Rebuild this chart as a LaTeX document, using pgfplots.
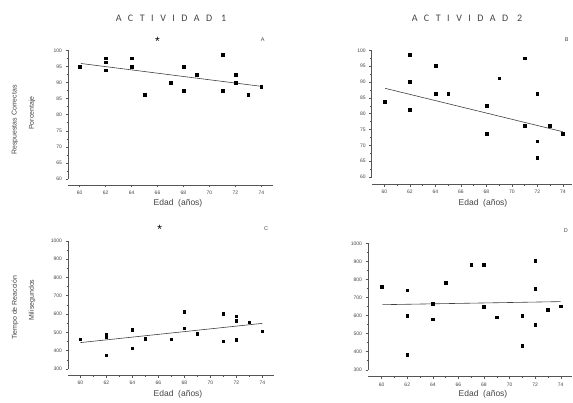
\documentclass[border=0pt]{standalone}
\usepackage{fontspec}
\setmainfont{Liberation Sans}
\newfontfamily\titlefont[LetterSpace=65]{Carlito}
\usepackage{pgfplots}
\pgfplotsset{compat=1.18}
\definecolor{txt}{HTML}{444444}
\definecolor{axc}{HTML}{555555}
\pgfplotsset{
  panel/.style={
    scale only axis,
    axis x line=bottom, axis y line=left,
    axis line style={axc, line width=0.5pt, -},
    axis x line shift=6pt,
    tick style={axc, line width=0.4pt},
    tick pos=left,
    tick align=outside,
    major tick length=2.5pt, minor tick length=1.5pt,
    xtick={60,62,...,74}, minor xtick={61,63,...,73},
    ticklabel style={font=\fontsize{5}{6}\selectfont, text=txt},
    /pgf/number format/assume math mode=true,
    /pgf/number format/1000 sep={},
    clip=false,
    enlargelimits=false,
  },
  pts/.style={only marks, mark=square*, mark size=1.35pt, black},
  reg/.style={no marks, black!75, line width=0.6pt},
}
\begin{document}
\begin{tikzpicture}[x=1pt,y=1pt]
\path (0,0) rectangle (573,402);
% titles
\node[text=txt, font=\titlefont\fontsize{10}{11}\selectfont] at (171,384) {ACTIVIDAD 1};
\node[text=txt, font=\titlefont\fontsize{10}{11}\selectfont] at (467,384) {ACTIVIDAD 2};
% y labels
\node[rotate=90, text=txt, font=\fontsize{7}{8}\selectfont] at (15,282) {Respuestas Correctas};
\node[rotate=90, text=txt, font=\fontsize{7}{8}\selectfont] at (32,289) {Porcentaje};
\node[rotate=90, text=txt, font=\fontsize{7}{8}\selectfont] at (15,94) {Tiempo de Reacción};
\node[rotate=90, text=txt, font=\fontsize{7}{8}\selectfont] at (32,102) {Milisegundos};
% x labels
\node[text=txt, font=\fontsize{8.5}{9}\selectfont] at (178,199) {Edad\ \ (años)};
\node[text=txt, font=\fontsize{8.5}{9}\selectfont] at (483,199) {Edad\ \ (años)};
\node[text=txt, font=\fontsize{8.5}{9}\selectfont] at (178,8) {Edad\ \ (años)};
\node[text=txt, font=\fontsize{8.5}{9}\selectfont] at (483,8) {Edad\ \ (años)};

% Panel A
\begin{axis}[panel, at={(68pt,223pt)}, anchor=south west,
  width=205pt, height=128.7pt,
  xmin=59.1, xmax=74.9, ymin=60, ymax=100,
  ytick={60,65,...,100}, minor ytick={62.5,67.5,...,97.5}]
\addplot[pts] coordinates {
(60,95) (62,97.5) (62,96.3) (62,93.8) (64,97.5) (64,95) (65,86.2)
(67,90) (68,95) (68,87.5) (69,92.5) (71,98.7) (71,87.5) (72,92.5)
(72,90) (73,86.2) (74,88.7)};
\addplot[reg] coordinates {(60.1,95.9) (74,88.8)};
\node[font=\fontsize{12}{12}\selectfont] at (axis cs:66,102.8) {*};
\node[text=txt, font=\fontsize{5.5}{6}\selectfont] at (axis cs:74.1,103.4) {A};
\end{axis}

% Panel B
\begin{axis}[panel, at={(371.7pt,225pt)}, anchor=south west,
  width=200pt, height=126.7pt, axis x line shift=7.3pt,
  xmin=59.0, xmax=74.7, ymin=60, ymax=100,
  ytick={60,65,...,100}, minor ytick={62.5,67.5,...,97.5}]
\addplot[pts] coordinates {
(60,83.8) (62,98.7) (62,90) (62,81.2) (64,95.1) (64,86.2) (65,86.2)
(68,82.5) (68,73.7) (69,91.2) (71,97.5) (71,76.2) (72,86.2) (72,71.3)
(72,66.2) (73,76.2) (74,73.7)};
\addplot[reg] coordinates {(60.05,88) (74,74.3)};
\node[text=txt, font=\fontsize{5.5}{6}\selectfont] at (axis cs:74.3,103.3) {B};
\end{axis}

% Panel C
\begin{axis}[panel, at={(68pt,33pt)}, anchor=south west,
  width=206pt, height=128.3pt,
  xmin=59.05, xmax=74.9, ymin=300, ymax=1000,
  ytick={300,400,...,1000}, minor ytick={350,450,...,950}]
\addplot[pts] coordinates {
(60,462) (62,489) (62,476) (62,376) (64,513) (64,413) (65,467)
(67,462) (68,611) (68,522) (69,491) (71,600) (71,451) (72,588)
(72,564) (72,458) (73,555) (74,506)};
\addplot[reg] coordinates {(60,444) (74,549)};
\node[font=\fontsize{12}{12}\selectfont] at (axis cs:66.1,1062) {*};
\node[text=txt, font=\fontsize{5.5}{6}\selectfont] at (axis cs:74.3,1065) {C};
\end{axis}

% Panel D
\begin{axis}[panel, at={(368pt,32.3pt)}, anchor=south west,
  width=203.7pt, height=126.4pt, axis x line shift=7pt,
  xmin=58.93, xmax=74.86, ymin=300, ymax=1000,
  ytick={300,400,...,1000}, minor ytick={350,450,...,950}]
\addplot[pts] coordinates {
(60,758) (62,741) (62,599) (62,384) (64,667) (64,580) (65,780)
(67,882) (68,882) (68,647) (69,590) (71,601) (71,434) (72,902)
(72,750) (72,549) (73,632) (74,652)};
\addplot[reg] coordinates {(60.05,660) (74,677)};
\node[text=txt, font=\fontsize{5.5}{6}\selectfont] at (axis cs:74.4,1068) {D};
\end{axis}
\end{tikzpicture}
\end{document}
